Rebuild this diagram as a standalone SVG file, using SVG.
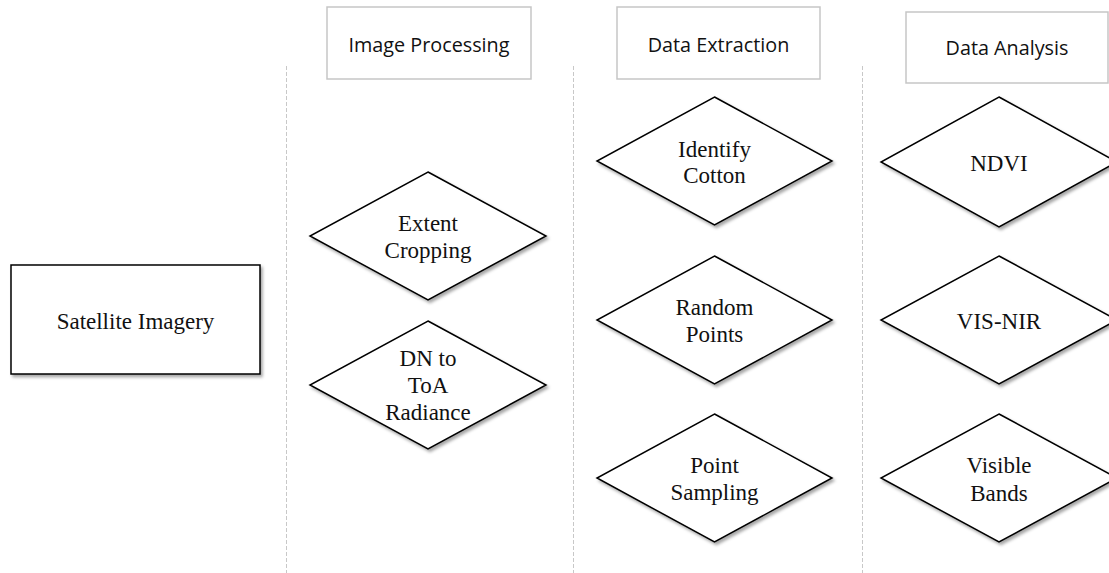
<svg xmlns="http://www.w3.org/2000/svg" width="1109" height="573" viewBox="0 0 1109 573">
<style>
.hdr rect{fill:#fff;stroke:#c6c6c6;stroke-width:1.5}
.hdr text{font-family:"Open Sans","Noto Sans",sans-serif;font-size:19.8px;fill:#111;text-anchor:middle}
.node polygon,.node rect{fill:#fff;stroke:#000;stroke-width:1.5;filter:url(#sh)}
.node text{font-family:"Liberation Serif","Times New Roman",serif;font-size:23px;fill:#111;text-anchor:middle}
.div line{stroke:#c8c8c8;stroke-width:1;stroke-dasharray:4 2}
</style>
<defs>
<filter id="sh" x="-10%" y="-10%" width="130%" height="130%">
<feDropShadow dx="2" dy="2.5" stdDeviation="1.5" flood-color="#000" flood-opacity="0.35"/>
</filter>
</defs>
<rect width="1109" height="573" fill="#fff"/>
<g id="connectors" class="div">
<line x1="286.5" y1="66" x2="286.5" y2="573"/>
<line x1="573.5" y1="66" x2="573.5" y2="573"/>
<line x1="862.5" y1="66" x2="862.5" y2="573"/>
</g>
<g id="hdr-image-processing" class="hdr"><rect x="327" y="7" width="204" height="72"/><text x="429" y="52">Image Processing</text></g>
<g id="hdr-data-extraction" class="hdr"><rect x="617" y="7" width="203" height="72"/><text x="718.5" y="52">Data Extraction</text></g>
<g id="hdr-data-analysis" class="hdr"><rect x="906" y="12" width="202" height="71"/><text x="1007" y="55">Data Analysis</text></g>
<g id="satellite-imagery" class="node"><rect x="11" y="265" width="249" height="109"/><text x="135.5" y="329">Satellite Imagery</text></g>
<g id="extent-cropping" class="node"><polygon points="428,172 546,236 428,300 310,236"/><text x="428" y="231">Extent</text><text x="428" y="258">Cropping</text></g>
<g id="dn-to-toa" class="node"><polygon points="428,321 546,385 428,449 310,385"/><text x="428" y="366">DN to</text><text x="428" y="393">ToA</text><text x="428" y="420">Radiance</text></g>
<g id="identify-cotton" class="node"><polygon points="714.5,97 832,161 714.5,225 597,161"/><text x="714.5" y="157">Identify</text><text x="714.5" y="183">Cotton</text></g>
<g id="random-points" class="node"><polygon points="714.5,256 832,320 714.5,384 597,320"/><text x="714.5" y="315">Random</text><text x="714.5" y="342">Points</text></g>
<g id="point-sampling" class="node"><polygon points="714.5,414 832,478 714.5,542 597,478"/><text x="714.5" y="473">Point</text><text x="714.5" y="500">Sampling</text></g>
<g id="ndvi" class="node"><polygon points="999,97 1117,162 999,227 881,162"/><text x="999" y="171">NDVI</text></g>
<g id="vis-nir" class="node"><polygon points="999,256 1117,320 999,384 881,320"/><text x="999" y="329">VIS-NIR</text></g>
<g id="visible-bands" class="node"><polygon points="999,414 1117,478 999,542 881,478"/><text x="999" y="473">Visible</text><text x="999" y="501">Bands</text></g>
</svg>
